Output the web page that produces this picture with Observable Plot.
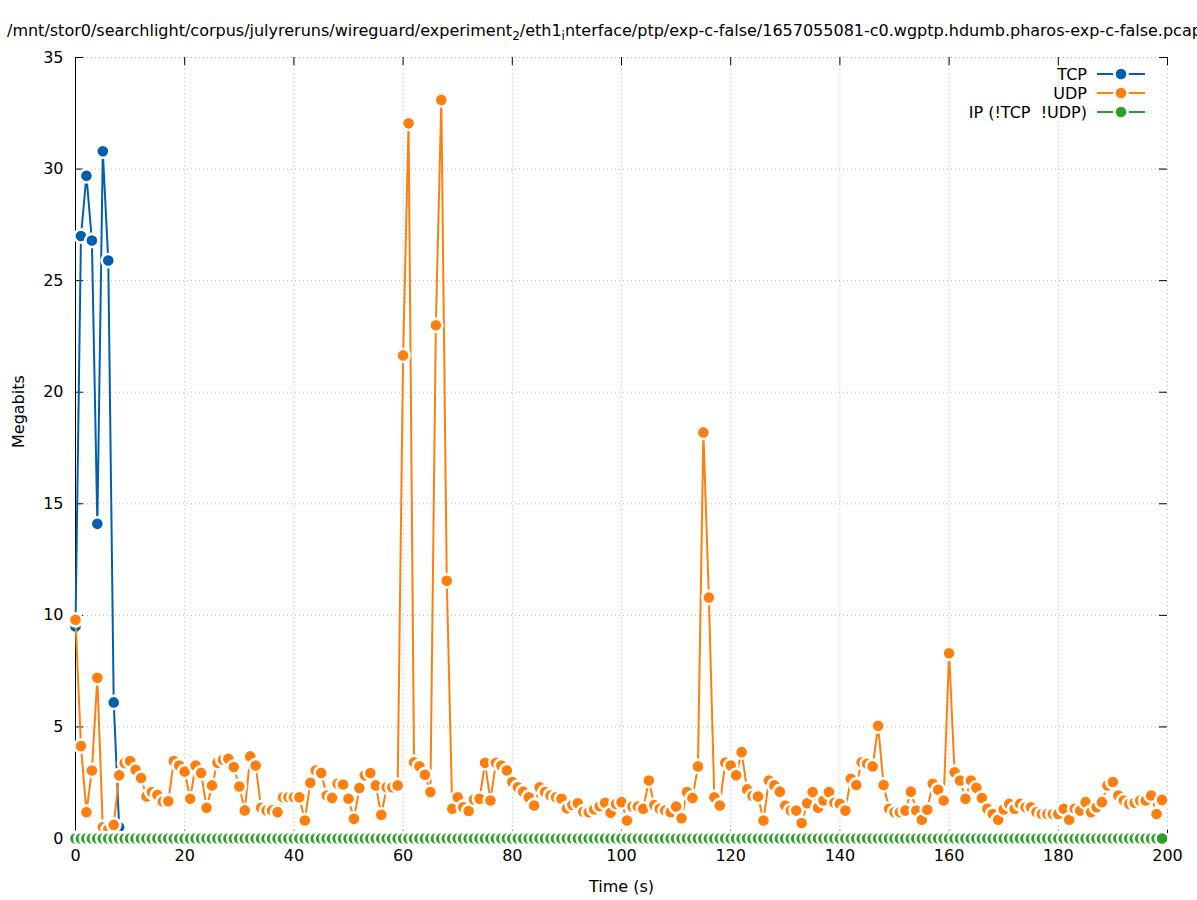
<!DOCTYPE html>
<html><head><meta charset="utf-8">
<script src="https://cdn.jsdelivr.net/npm/d3@7"></script>
<script src="https://cdn.jsdelivr.net/npm/@observablehq/plot@0.6"></script>
<style>body{margin:0;background:#fff;} svg{display:block}</style>
</head><body><div id="chart"></div>
<script>
// ---- data (Megabits per 1 s bin) ----
const tcpValues = [9.5, 27.0, 29.7, 26.8, 14.1, 30.8, 25.9, 6.1, 0.5];
const udpValues = [
  9.8, 4.14, 1.18, 3.05, 7.2, 0.5, 0.4, 0.61, 2.83, 3.38,
  3.47, 3.08, 2.71, 1.88, 2.08, 1.95, 1.66, 1.67, 3.47, 3.27,
  3.0, 1.78, 3.27, 2.94, 1.38, 2.38, 3.39, 3.53, 3.57, 3.2,
  2.33, 1.26, 3.68, 3.27, 1.38, 1.26, 1.26, 1.18, 1.85, 1.85,
  1.85, 1.85, 0.81, 2.5, 3.05, 2.94, 1.93, 1.82, 2.45, 2.42,
  1.78, 0.88, 2.26, 2.83, 2.93, 2.38, 1.06, 2.3, 2.3, 2.38,
  21.65, 32.05, 3.42, 3.24, 2.86, 2.08, 23.0, 33.1, 11.55, 1.33,
  1.85, 1.4, 1.23, 1.75, 1.78, 3.39, 1.7, 3.39, 3.27, 3.05,
  2.53, 2.3, 2.1, 1.85, 1.48, 2.3, 2.08, 1.93, 1.85, 1.78,
  1.35, 1.5, 1.58, 1.2, 1.18, 1.3, 1.45, 1.6, 1.15, 1.55,
  1.63, 0.81, 1.43, 1.43, 1.33, 2.6, 1.5, 1.33, 1.25, 1.18,
  1.43, 0.91, 2.08, 1.82, 3.23, 18.2, 10.8, 1.85, 1.48, 3.4,
  3.27, 2.83, 3.87, 2.2, 1.9, 1.88, 0.81, 2.6, 2.38, 2.1,
  1.48, 1.25, 1.25, 0.69, 1.58, 2.08, 1.38, 1.7, 2.08, 1.6,
  1.55, 1.25, 2.68, 2.4, 3.42, 3.35, 3.23, 5.05, 2.4, 1.33,
  1.18, 1.18, 1.25, 2.1, 1.25, 0.84, 1.29, 2.45, 2.18, 1.7,
  8.3, 2.97, 2.6, 1.78, 2.6, 2.27, 1.81, 1.33, 1.1, 0.84,
  1.3, 1.55, 1.33, 1.55, 1.4, 1.4, 1.18, 1.1, 1.1, 1.1,
  1.1, 1.33, 0.84, 1.33, 1.25, 1.63, 1.18, 1.4, 1.63, 2.38,
  2.53, 1.93, 1.7, 1.55, 1.6, 1.7, 1.7, 1.93, 1.1, 1.73
];
const ipValues = udpValues.map(() => 0);
const xTicks = [0, 20, 40, 60, 80, 100, 120, 140, 160, 180, 200];
const yTicks = [0, 5, 10, 15, 20, 25, 30, 35];
const seriesNames = ["TCP", "UDP", "IP (!TCP  !UDP)"];
const seriesColors = ["#0060ad", "#ff7f0e", "#2ca02c"];
const titleParts = [
  ["/mnt/stor0/searchlight/corpus/julyreruns/wireguard/experiment", false],
  ["2", true],
  ["/eth1", false],
  ["i", true],
  ["nterface/ptp/exp-c-false/1657055081-c0.wgptp.hdumb.pharos-exp-c-false.pcap", false]
];

const toRows = vals => vals.map((v, i) => ({t: i, v}));
const tcp = toRows(tcpValues), udp = toRows(udpValues), ip = toRows(ipValues);

const W = 1197, H = 900, mL = 75, mR = 30, mT = 57, mB = 62;
const fw = W - mL - mR, fh = H - mT - mB, tk = 8;
const font = "DejaVu Sans";
const fs = 16;
const gridStyle = {stroke: "#b8b8b8", strokeWidth: 1, strokeDasharray: "1,3"};

function seriesMarks(data, color) {
  return [
    Plot.line(data, {x: "t", y: "v", stroke: color, strokeWidth: 2}),
    Plot.dot(data, {x: "t", y: "v", r: 6.6, fill: color, stroke: "white", strokeWidth: 2.6})
  ];
}

const chart = Plot.plot({
  width: W, height: H,
  marginLeft: mL, marginRight: mR, marginTop: mT, marginBottom: mB,
  style: {fontFamily: font, fontSize: fs + "px", background: "white", overflow: "visible"},
  x: {domain: [0, 200], axis: null},
  y: {domain: [0, 35], axis: null},
  marks: [
    Plot.ruleX(xTicks.filter(d => d > 0), {x: d => d, ...gridStyle}),
    Plot.ruleY(yTicks.filter(d => d > 0), {y: d => d, ...gridStyle}),
    Plot.ruleX([0], {x: d => d, stroke: "black", strokeWidth: 1}),
    Plot.ruleY([0], {y: d => d, stroke: "black", strokeWidth: 1}),
    Plot.ruleX(xTicks, {x: d => d, insetTop: fh - tk, stroke: "black"}),
    Plot.ruleX(xTicks, {x: d => d, insetBottom: fh - tk, stroke: "black"}),
    Plot.ruleY(yTicks, {y: d => d, insetRight: fw - tk, stroke: "black"}),
    Plot.ruleY(yTicks, {y: d => d, insetLeft: fw - tk, stroke: "black"}),
    Plot.text(xTicks, {x: d => d, text: d => String(d), frameAnchor: "bottom", lineAnchor: "top", dy: 11, fontSize: fs, fill: "black"}),
    Plot.text(yTicks, {y: d => d, text: d => String(d), frameAnchor: "left", textAnchor: "end", dx: -12, fontSize: fs, fill: "black"}),
    Plot.text(["Time (s)"], {text: d => d, frameAnchor: "bottom", lineAnchor: "middle", dy: 48, fontSize: fs, fill: "black"}),
    Plot.text(["Megabits"], {text: d => d, frameAnchor: "left", rotate: -90, dx: -57, fontSize: fs, fill: "black"}),
    ...seriesMarks(tcp, seriesColors[0]),
    ...seriesMarks(udp, seriesColors[1]),
    ...seriesMarks(ip, seriesColors[2])
  ]
});

const svg = d3.select(chart);
// title
const title = svg.append("text").attr("x", 7).attr("y", 36).attr("text-anchor", "start")
  .attr("font-family", font).attr("font-size", fs).attr("fill", "black");
titleParts.forEach(([s, sub], i) => {
  const ts = title.append("tspan").text(s);
  if (sub) ts.attr("font-size", 12).attr("dy", 4);
  else if (i > 0) ts.attr("dy", -4);
});
// legend
const lg = svg.append("g").attr("font-family", font).attr("font-size", fs);
seriesNames.forEach((name, i) => {
  const y = 74 + i * 19;
  lg.append("text").attr("x", 1087).attr("y", y).attr("dy", "0.35em")
    .attr("text-anchor", "end").attr("fill", "black").style("white-space", "pre").text(name);
  lg.append("line").attr("x1", 1097).attr("x2", 1145).attr("y1", y).attr("y2", y)
    .attr("stroke", seriesColors[i]).attr("stroke-width", 2);
  lg.append("circle").attr("cx", 1121).attr("cy", y).attr("r", 6.6)
    .attr("fill", seriesColors[i]).attr("stroke", "white").attr("stroke-width", 2.6);
});
document.getElementById("chart").appendChild(chart);
</script>
</body></html>
